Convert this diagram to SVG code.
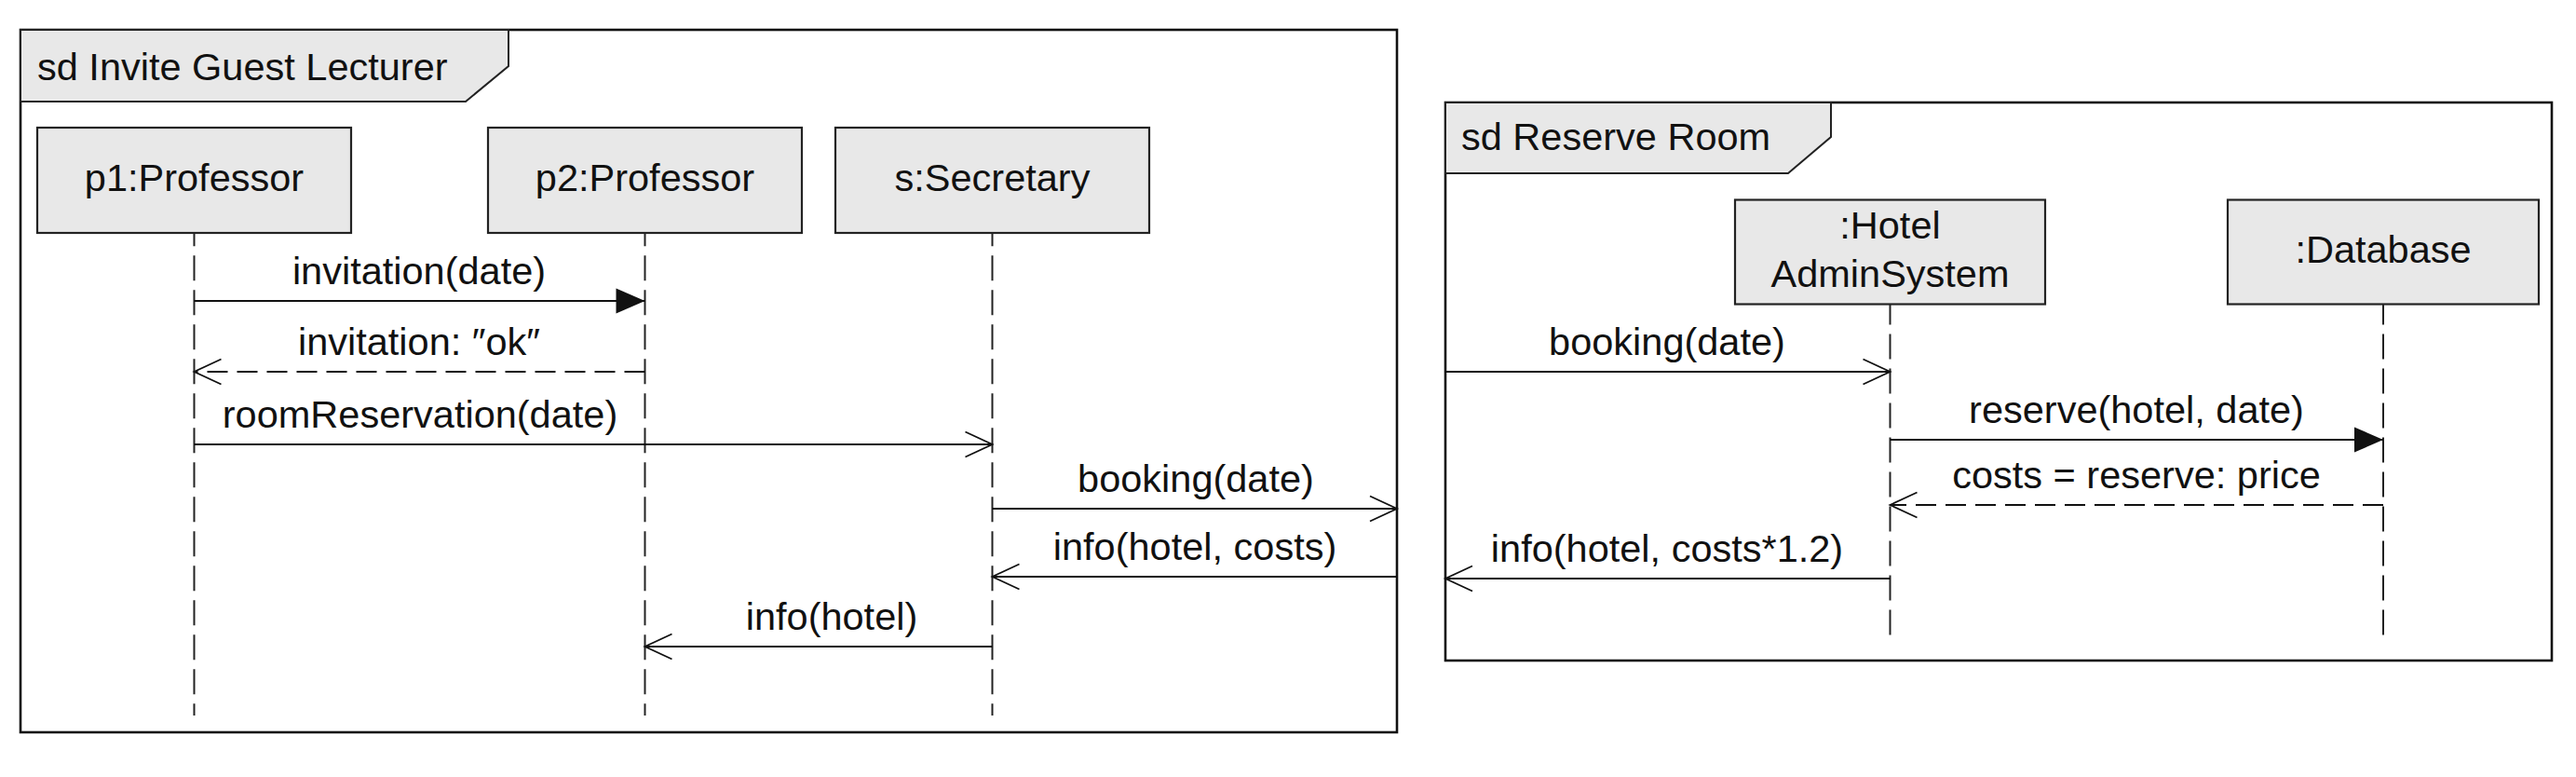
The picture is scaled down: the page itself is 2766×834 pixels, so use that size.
<svg xmlns="http://www.w3.org/2000/svg" width="2766" height="834" viewBox="0 0 2766 834">
<style>
text{font-family:"Liberation Sans",Arial,Helvetica,sans-serif;font-size:41.5px;fill:#111}
.c{text-anchor:middle}
.frame{fill:none;stroke:#111;stroke-width:2.6}
.tab{fill:#e8e8e8;stroke:#222;stroke-width:2}
.box{fill:#e8e8e8;stroke:#222;stroke-width:2.2}
.life{stroke:#222;stroke-width:2;stroke-dasharray:27 10;fill:none}
.msg{stroke:#111;stroke-width:1.8;fill:none}
.ret{stroke:#111;stroke-width:1.8;fill:none;stroke-dasharray:22 10}
</style>
<defs>
<marker id="open" markerUnits="userSpaceOnUse" viewBox="-32 -16 34 32" markerWidth="34" markerHeight="32" refX="0" refY="0" orient="auto" overflow="visible">
<path d="M-29,-13.5 L0,0 L-29,13.5" fill="none" stroke="#111" stroke-width="1.8"/>
</marker>
<marker id="filled" markerUnits="userSpaceOnUse" viewBox="-32 -16 34 32" markerWidth="34" markerHeight="32" refX="0" refY="0" orient="auto" overflow="visible">
<path d="M-31,-13.5 L0,0 L-31,13.5 Z" fill="#111" stroke="none"/>
</marker>
</defs>
<rect width="2766" height="834" fill="#fff"/>

<g id="frame-invite">
<rect class="frame" x="22" y="32" width="1478" height="754"/>
<path class="tab" d="M22,32 H546 V71 L500,109 H22 Z"/>
<text x="40" y="86">sd Invite Guest Lecturer</text>
</g>

<g id="frame-reserve">
<rect class="frame" x="1552" y="110" width="1188" height="599"/>
<path class="tab" d="M1552,110 H1966 V147 L1920,186 H1552 Z"/>
<text x="1569" y="161">sd Reserve Room</text>
</g>

<g id="p1">
<rect class="box" x="40" y="137" width="337" height="113"/>
<text class="c" x="208.5" y="205">p1:Professor</text>
<line class="life" x1="208.5" y1="250" x2="208.5" y2="768" stroke-dashoffset="12.7"/>
</g>
<g id="p2">
<rect class="box" x="524" y="137" width="337" height="113"/>
<text class="c" x="692.5" y="205">p2:Professor</text>
<line class="life" x1="692.5" y1="250" x2="692.5" y2="768" stroke-dashoffset="12.7"/>
</g>
<g id="s">
<rect class="box" x="897" y="137" width="337" height="113"/>
<text class="c" x="1065.5" y="205">s:Secretary</text>
<line class="life" x1="1065.5" y1="250" x2="1065.5" y2="768" stroke-dashoffset="12.7"/>
</g>
<g id="hotel">
<rect class="box" x="1863" y="214.5" width="333" height="112"/>
<text class="c" x="2029.5" y="256">:Hotel</text>
<text class="c" x="2029.5" y="308">AdminSystem</text>
<line class="life" x1="2029.5" y1="326.5" x2="2029.5" y2="690" stroke-dashoffset="5"/>
</g>
<g id="database">
<rect class="box" x="2392" y="214.5" width="334" height="112"/>
<text class="c" x="2559" y="282">:Database</text>
<line class="life" x1="2559" y1="326.5" x2="2559" y2="690" stroke-dashoffset="5"/>
</g>

<g id="connectors">
<line class="msg" x1="208.5" y1="323" x2="692.5" y2="323" marker-end="url(#filled)"/>
<text class="c" x="450" y="305">invitation(date)</text>
<line class="ret" x1="692.5" y1="399" x2="208.5" y2="399" marker-end="url(#open)"/>
<text class="c" x="450" y="381">invitation: ″ok″</text>
<line class="msg" x1="208.5" y1="477" x2="1065.5" y2="477" marker-end="url(#open)"/>
<text class="c" x="451" y="459">roomReservation(date)</text>
<line class="msg" x1="1065.5" y1="546" x2="1500" y2="546" marker-end="url(#open)"/>
<text class="c" x="1284" y="528">booking(date)</text>
<line class="msg" x1="1500" y1="619" x2="1065.5" y2="619" marker-end="url(#open)"/>
<text class="c" x="1283" y="601">info(hotel, costs)</text>
<line class="msg" x1="1065.5" y1="694" x2="692.5" y2="694" marker-end="url(#open)"/>
<text class="c" x="893" y="676">info(hotel)</text>

<line class="msg" x1="1552" y1="399" x2="2029.5" y2="399" marker-end="url(#open)"/>
<text class="c" x="1790" y="381">booking(date)</text>
<line class="msg" x1="2029.5" y1="472" x2="2559" y2="472" marker-end="url(#filled)"/>
<text class="c" x="2294" y="454">reserve(hotel, date)</text>
<line class="ret" x1="2559" y1="542" x2="2029.5" y2="542" marker-end="url(#open)"/>
<text class="c" x="2294" y="524">costs = reserve: price</text>
<line class="msg" x1="2029.5" y1="621" x2="1552" y2="621" marker-end="url(#open)"/>
<text class="c" x="1790" y="603">info(hotel, costs*1.2)</text>
</g>
</svg>
